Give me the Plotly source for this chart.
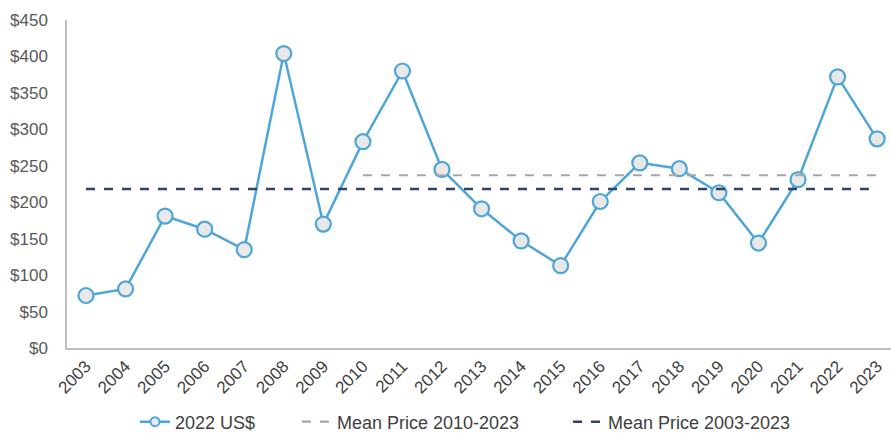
import plotly.graph_objects as go

years = [str(y) for y in range(2003, 2024)]
price_2022_usd = [72, 81, 181, 163, 135, 404, 170, 283, 380, 245, 191,
                  147, 113, 201, 254, 246, 213, 144, 231, 372, 287]
mean_2010_2023 = 237
mean_2003_2023 = 218
y_ticks = list(range(0, 451, 50))
y_tick_labels = [f"${v}" for v in y_ticks]

idx = list(range(len(years)))
i2010 = years.index("2010")

BLUE = "#4ea6d8"

fig = go.Figure()
# Main price series (its legend entry is a proxy with a smaller marker)
fig.add_trace(go.Scatter(
    x=idx, y=price_2022_usd, mode="lines+markers", name="2022 US$",
    line=dict(color=BLUE, width=2.5),
    marker=dict(size=15, color="#e8e8e8", line=dict(color=BLUE, width=2.2)),
    cliponaxis=False, showlegend=False, legendgroup="price",
))
fig.add_trace(go.Scatter(
    x=[None], y=[None], mode="lines+markers", name="2022 US$",
    line=dict(color=BLUE, width=2.5),
    marker=dict(size=9, color="#e8e8e8", line=dict(color=BLUE, width=2)),
    legendgroup="price", legend="legend",
))
fig.add_trace(go.Scatter(
    x=[idx[i2010], idx[-1]], y=[mean_2010_2023] * 2, mode="lines",
    name="Mean Price 2010-2023",
    line=dict(color="#a6a6a6", width=2.2, dash="dash"),
    legend="legend2",
))
fig.add_trace(go.Scatter(
    x=[idx[0], idx[-1]], y=[mean_2003_2023] * 2, mode="lines",
    name="Mean Price 2003-2023",
    line=dict(color="#2f4468", width=2.5, dash="dash"),
    legend="legend3",
))

legend_style = dict(orientation="h", xanchor="left", y=-0.2256, yanchor="middle",
                    font=dict(size=18, color="#404040"), bgcolor="rgba(0,0,0,0)")

fig.update_layout(
    width=891, height=433,
    margin=dict(l=67, r=0, t=20, b=85, autoexpand=False),
    paper_bgcolor="white", plot_bgcolor="white",
    font=dict(family="Liberation Sans, Arial, sans-serif", color="#595959", size=17),
    showlegend=True,
    legend=dict(x=0.0825, **legend_style),
    legend2=dict(x=0.279, **legend_style),
    legend3=dict(x=0.608, **legend_style),
    xaxis=dict(range=[-0.48, 20.35], tickmode="array", tickvals=idx, ticktext=years,
               tickangle=-45, tickfont=dict(size=17, color="#404040"),
               showgrid=False, zeroline=False, showline=True, automargin=False,
               linecolor="#bfbfbf", linewidth=1.5, ticks=""),
    yaxis=dict(range=[0, 450], tickmode="array", tickvals=y_ticks, ticktext=y_tick_labels,
               tickfont=dict(size=17, color="#595959"), automargin=False,
               showgrid=False, zeroline=False, showline=True,
               linecolor="#bfbfbf", linewidth=1.5, ticks="", ticklabelstandoff=14),
)

fig.write_html("out.html")
